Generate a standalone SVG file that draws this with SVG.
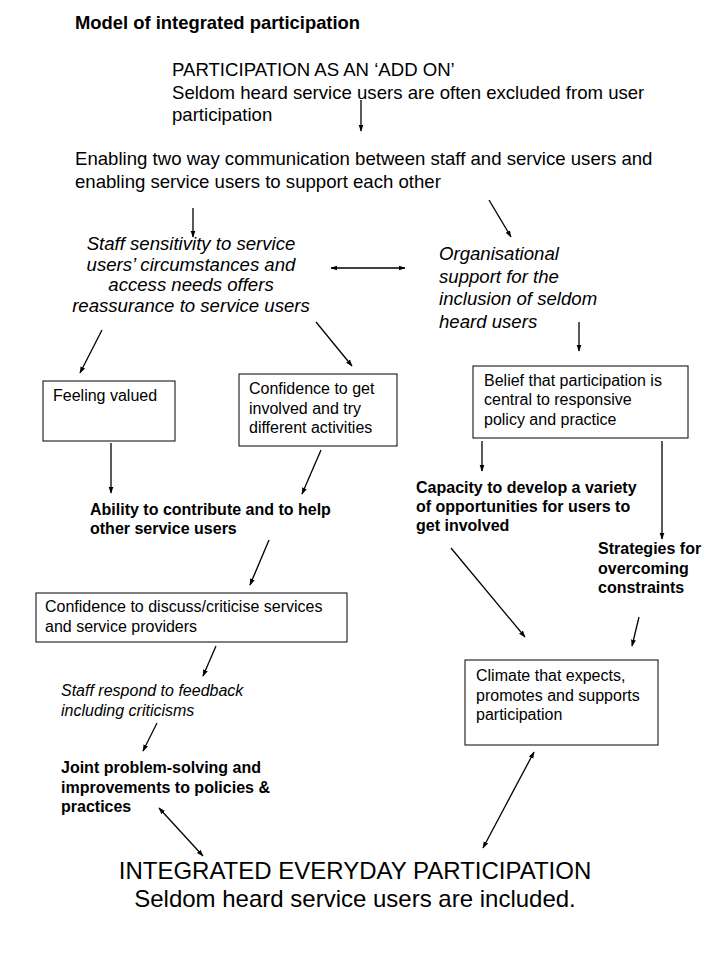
<svg xmlns="http://www.w3.org/2000/svg" width="720" height="960" viewBox="0 0 720 960">
<style>
text{font-family:"Liberation Sans",Arial,sans-serif;fill:#000}
.t{font-weight:bold;font-size:18.4px}
.l{font-size:18.6px}
.i{font-size:18.6px;font-style:italic}
.s{font-size:16px}
.b{font-size:16px;font-weight:bold}
.si{font-size:16px;font-style:italic}
.big{font-size:24px}
.box{fill:#fff;stroke:#000;stroke-width:1}
.c line{stroke:#000;stroke-width:1.3;marker-end:url(#ah)}
.c line.d{marker-start:url(#ahs)}
</style>
<defs>
<marker id="ah" viewBox="0 0 10 10" refX="9" refY="5" markerWidth="7" markerHeight="7" markerUnits="userSpaceOnUse" orient="auto"><path d="M0,1.5 L10,5 L0,8.5 Z" fill="#000"/></marker>
<marker id="ahs" viewBox="0 0 10 10" refX="1" refY="5" markerWidth="7" markerHeight="7" markerUnits="userSpaceOnUse" orient="auto"><path d="M10,1.5 L0,5 L10,8.5 Z" fill="#000"/></marker>
</defs>
<rect width="720" height="960" fill="#fff"/>
<g id="title"><text class="t" x="75" y="29">Model of integrated participation</text></g>
<g id="addon">
<text class="l" x="172" y="76">PARTICIPATION AS AN ‘ADD ON’</text>
<text class="l" x="172" y="99">Seldom heard service users are often excluded from user</text>
<text class="l" x="172" y="121">participation</text>
</g>
<g id="enabling">
<text class="l" x="75" y="165">Enabling two way communication between staff and service users and</text>
<text class="l" x="75" y="188">enabling service users to support each other</text>
</g>
<g id="staff" text-anchor="middle">
<text class="i" x="191" y="250">Staff sensitivity to service</text>
<text class="i" x="191" y="271">users’ circumstances and</text>
<text class="i" x="191" y="291">access needs offers</text>
<text class="i" x="191" y="312">reassurance to service users</text>
</g>
<g id="org">
<text class="i" x="439" y="260">Organisational</text>
<text class="i" x="439" y="283">support for the</text>
<text class="i" x="439" y="305">inclusion of seldom</text>
<text class="i" x="439" y="328">heard users</text>
</g>
<g id="valued"><rect class="box" x="43" y="381" width="132" height="60"/><text class="s" x="53" y="401">Feeling valued</text></g>
<g id="confidence"><rect class="box" x="239" y="374" width="158" height="72"/>
<text class="s" x="249" y="394">Confidence to get</text>
<text class="s" x="249" y="414">involved and try</text>
<text class="s" x="249" y="433">different activities</text></g>
<g id="belief"><rect class="box" x="473" y="366" width="215" height="72"/>
<text class="s" x="484" y="386">Belief that participation is</text>
<text class="s" x="484" y="405">central to responsive</text>
<text class="s" x="484" y="425">policy and practice</text></g>
<g id="ability">
<text class="b" x="90" y="515">Ability to contribute and to help</text>
<text class="b" x="90" y="534">other service users</text></g>
<g id="capacity">
<text class="b" x="416" y="493">Capacity to develop a variety</text>
<text class="b" x="416" y="512">of opportunities for users to</text>
<text class="b" x="416" y="531">get involved</text></g>
<g id="strategies">
<text class="b" x="598" y="554">Strategies for</text>
<text class="b" x="598" y="574">overcoming</text>
<text class="b" x="598" y="593">constraints</text></g>
<g id="discuss"><rect class="box" x="36" y="593" width="311" height="49"/>
<text class="s" x="45" y="612">Confidence to discuss/criticise services</text>
<text class="s" x="45" y="632">and service providers</text></g>
<g id="climate"><rect class="box" x="465" y="660" width="193" height="85"/>
<text class="s" x="476" y="681">Climate that expects,</text>
<text class="s" x="476" y="701">promotes and supports</text>
<text class="s" x="476" y="720">participation</text></g>
<g id="respond">
<text class="si" x="61" y="696">Staff respond to feedback</text>
<text class="si" x="61" y="716">including criticisms</text></g>
<g id="joint">
<text class="b" x="61" y="773">Joint problem-solving and</text>
<text class="b" x="61" y="793">improvements to policies &amp;</text>
<text class="b" x="61" y="812">practices</text></g>
<g id="integrated" text-anchor="middle">
<text class="big" x="355" y="879">INTEGRATED EVERYDAY PARTICIPATION</text>
<text class="big" x="355" y="907">Seldom heard service users are included.</text></g>
<g class="c" id="connectors">
<line x1="361" y1="100" x2="361" y2="131"/>
<line x1="193" y1="208" x2="193" y2="237"/>
<line x1="489" y1="200" x2="511" y2="237"/>
<line class="d" x1="331" y1="268" x2="405" y2="268"/>
<line x1="579" y1="322" x2="579" y2="351"/>
<line x1="102" y1="330" x2="80" y2="373"/>
<line x1="316" y1="322" x2="352" y2="366"/>
<line x1="111" y1="443" x2="111" y2="493"/>
<line x1="321" y1="450" x2="302" y2="494"/>
<line x1="482" y1="441" x2="482" y2="471"/>
<line x1="662" y1="441" x2="662" y2="539"/>
<line x1="269" y1="540" x2="250" y2="585"/>
<line x1="451" y1="548" x2="525" y2="637"/>
<line x1="639" y1="617" x2="632" y2="646"/>
<line x1="216" y1="646" x2="203" y2="676"/>
<line x1="157" y1="723" x2="143" y2="751"/>
<line class="d" x1="159" y1="808" x2="203" y2="856"/>
<line class="d" x1="534" y1="752" x2="483" y2="848"/>
</g>
</svg>
